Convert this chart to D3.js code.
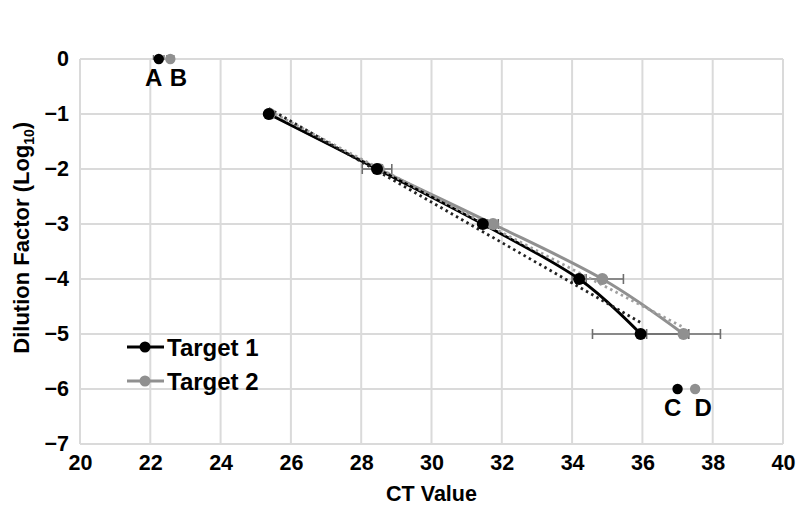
<!DOCTYPE html>
<html><head><meta charset="utf-8">
<script src="https://cdn.jsdelivr.net/npm/d3@7"></script>
<style>body{margin:0;background:#fff}svg{display:block}text{font-family:"Liberation Sans",Arial,sans-serif;font-weight:bold;fill:#000}</style>
</head><body><svg id="c" width="800" height="518"></svg>
<script>
const dilutions = [-1, -2, -3, -4, -5];
const target1CT = [25.37, 28.45, 31.46, 34.2, 35.95];
const target1Err = [0.05, 0.42, 0.05, 0.2, 1.37];
const target2CT = [25.4, 28.5, 31.75, 34.86, 37.17];
const target2Err = [0.05, 0.1, 0.15, 0.6, 1.05];
const trend1 = [[25.37, -0.9], [35.95, -4.79]];
const trend2 = [[25.4, -0.95], [37.17, -4.88]];
const extraPoints = [
  {label: "A", ct: 22.24, y: 0, err: 0.15, series: 1},
  {label: "B", ct: 22.57, y: 0, err: 0.1, series: 2},
  {label: "C", ct: 37.0, y: -6, err: 0, series: 1},
  {label: "D", ct: 37.5, y: -6, err: 0, series: 2}
];
const xTicks = [20,22,24,26,28,30,32,34,36,38,40];
const yTicks = [0,-1,-2,-3,-4,-5,-6,-7];
const seriesNames = ["Target 1", "Target 2"];
const colors = {1: "#000000", 2: "#909090"};
const FONT = '"Liberation Sans",Arial,sans-serif';

const svg = d3.select("#c");
const x = d3.scaleLinear().domain([20, 40]).range([80, 783]);
const y = d3.scaleLinear().domain([-7, 0]).range([444, 59]);

// grid
const g = svg.append("g");
g.selectAll(".vg").data(xTicks).join("line")
  .attr("x1", d => x(d)).attr("x2", d => x(d)).attr("y1", y(0)).attr("y2", y(-7))
  .attr("stroke", "#dadada").attr("stroke-width", 2);
g.selectAll(".hg").data(yTicks).join("line")
  .attr("y1", d => y(d)).attr("y2", d => y(d)).attr("x1", x(20)).attr("x2", x(40))
  .attr("stroke", "#dadada").attr("stroke-width", 2);

// axes (labels only)
const xAxis = d3.axisBottom(x).tickValues(xTicks).tickSize(0).tickPadding(11).tickFormat(d3.format("d"));
const xa = svg.append("g").attr("transform", `translate(0,${y(-7)})`).call(xAxis);
xa.select(".domain").remove();
xa.selectAll("text").attr("font-size", 21.5).attr("font-family", FONT).attr("font-weight", "bold").attr("fill", "#000");
const yAxis = d3.axisLeft(y).tickValues(yTicks).tickSize(0).tickPadding(11).tickFormat(d => d === 0 ? "0" : "\u2212" + Math.abs(d));
const ya = svg.append("g").attr("transform", `translate(${x(20)},0)`).call(yAxis);
ya.select(".domain").remove();
ya.selectAll("text").attr("font-size", 21.5).attr("font-family", FONT).attr("font-weight", "bold").attr("fill", "#000");

// axis titles
svg.append("text").attr("x", x(30)).attr("y", 501).attr("text-anchor", "middle").attr("font-size", 21.5).text("CT Value");
const yt = svg.append("text").attr("transform", `translate(29,${y(-3.25)}) rotate(-90)`).attr("text-anchor", "middle").attr("font-size", 22);
yt.append("tspan").text("Dilution Factor (Log");
yt.append("tspan").attr("font-size", 14).attr("dy", 5).text("10");
yt.append("tspan").attr("dy", -5).text(")");

// error bars
function errorBars(cts, errs, cls) {
  const data = cts.map((c, i) => ({c, e: errs[i], d: dilutions[i]}));
  const eg = svg.append("g").attr("stroke", "#6e6e6e").attr("stroke-width", 1.6);
  eg.selectAll("." + cls + "h").data(data).join("line")
    .attr("x1", d => x(d.c - d.e)).attr("x2", d => x(d.c + d.e)).attr("y1", d => y(d.d)).attr("y2", d => y(d.d));
  eg.selectAll("." + cls + "l").data(data).join("line")
    .attr("x1", d => x(d.c - d.e)).attr("x2", d => x(d.c - d.e)).attr("y1", d => y(d.d) - 5).attr("y2", d => y(d.d) + 5);
  eg.selectAll("." + cls + "r").data(data).join("line")
    .attr("x1", d => x(d.c + d.e)).attr("x2", d => x(d.c + d.e)).attr("y1", d => y(d.d) - 5).attr("y2", d => y(d.d) + 5);
}
errorBars(target2CT, target2Err, "e2");
errorBars(target1CT, target1Err, "e1");

// extra point error bars
const exg = svg.append("g").attr("stroke", "#6e6e6e").attr("stroke-width", 1.4);
extraPoints.filter(p => p.err > 0).forEach(p => {
  exg.append("line").attr("x1", x(p.ct - p.err)).attr("x2", x(p.ct + p.err)).attr("y1", y(p.y)).attr("y2", y(p.y));
  exg.append("line").attr("x1", x(p.ct - p.err)).attr("x2", x(p.ct - p.err)).attr("y1", y(p.y) - 4).attr("y2", y(p.y) + 1);
  exg.append("line").attr("x1", x(p.ct + p.err)).attr("x2", x(p.ct + p.err)).attr("y1", y(p.y) - 4).attr("y2", y(p.y) + 1);
});

// series lines
const line = d3.line().x(d => x(d[0])).y(d => y(d[1])).curve(d3.curveCardinal.tension(0));
const s2 = target2CT.map((c, i) => [c, dilutions[i]]);
const s1 = target1CT.map((c, i) => [c, dilutions[i]]);
svg.append("path").attr("d", line(s2)).attr("fill", "none").attr("stroke", colors[2]).attr("stroke-width", 3);
svg.append("path").attr("d", line(s1)).attr("fill", "none").attr("stroke", colors[1]).attr("stroke-width", 2.8);

// trendlines
const tl = d3.line().x(d => x(d[0])).y(d => y(d[1]));
svg.append("path").attr("d", tl(trend2)).attr("fill", "none").attr("stroke", "#a0a0a0").attr("stroke-width", 2.8).attr("stroke-dasharray", "2.5,3.5");
svg.append("path").attr("d", tl(trend1)).attr("fill", "none").attr("stroke", "#222").attr("stroke-width", 2.8).attr("stroke-dasharray", "2.5,3.5");

// markers
svg.append("g").selectAll("circle").data(s2).join("circle")
  .attr("cx", d => x(d[0])).attr("cy", d => y(d[1])).attr("r", 6).attr("fill", colors[2]);
svg.append("g").selectAll("circle").data(s1).join("circle")
  .attr("cx", d => x(d[0])).attr("cy", d => y(d[1])).attr("r", 6).attr("fill", colors[1]);

// extra points
svg.append("g").selectAll("circle").data(extraPoints).join("circle")
  .attr("cx", d => x(d.ct)).attr("cy", d => y(d.y)).attr("r", 5.2).attr("fill", d => colors[d.series]);
svg.append("g").selectAll("text").data(extraPoints).join("text")
  .attr("x", d => x(d.ct) + (d.label === "A" || d.label === "C" ? -5 : 8))
  .attr("y", d => y(d.y) + 27)
  .attr("text-anchor", "middle").attr("font-size", 24).text(d => d.label);

// legend
const lg = svg.append("g");
seriesNames.forEach((name, i) => {
  const ly = 347 + i * 34;
  const c = colors[i + 1];
  lg.append("line").attr("x1", 127).attr("x2", 164).attr("y1", ly).attr("y2", ly).attr("stroke", c).attr("stroke-width", 2.8);
  lg.append("circle").attr("cx", 145).attr("cy", ly).attr("r", 5.5).attr("fill", c);
  lg.append("text").attr("x", 167).attr("y", ly + 9).attr("font-size", 24).text(name);
});
</script></body></html>
